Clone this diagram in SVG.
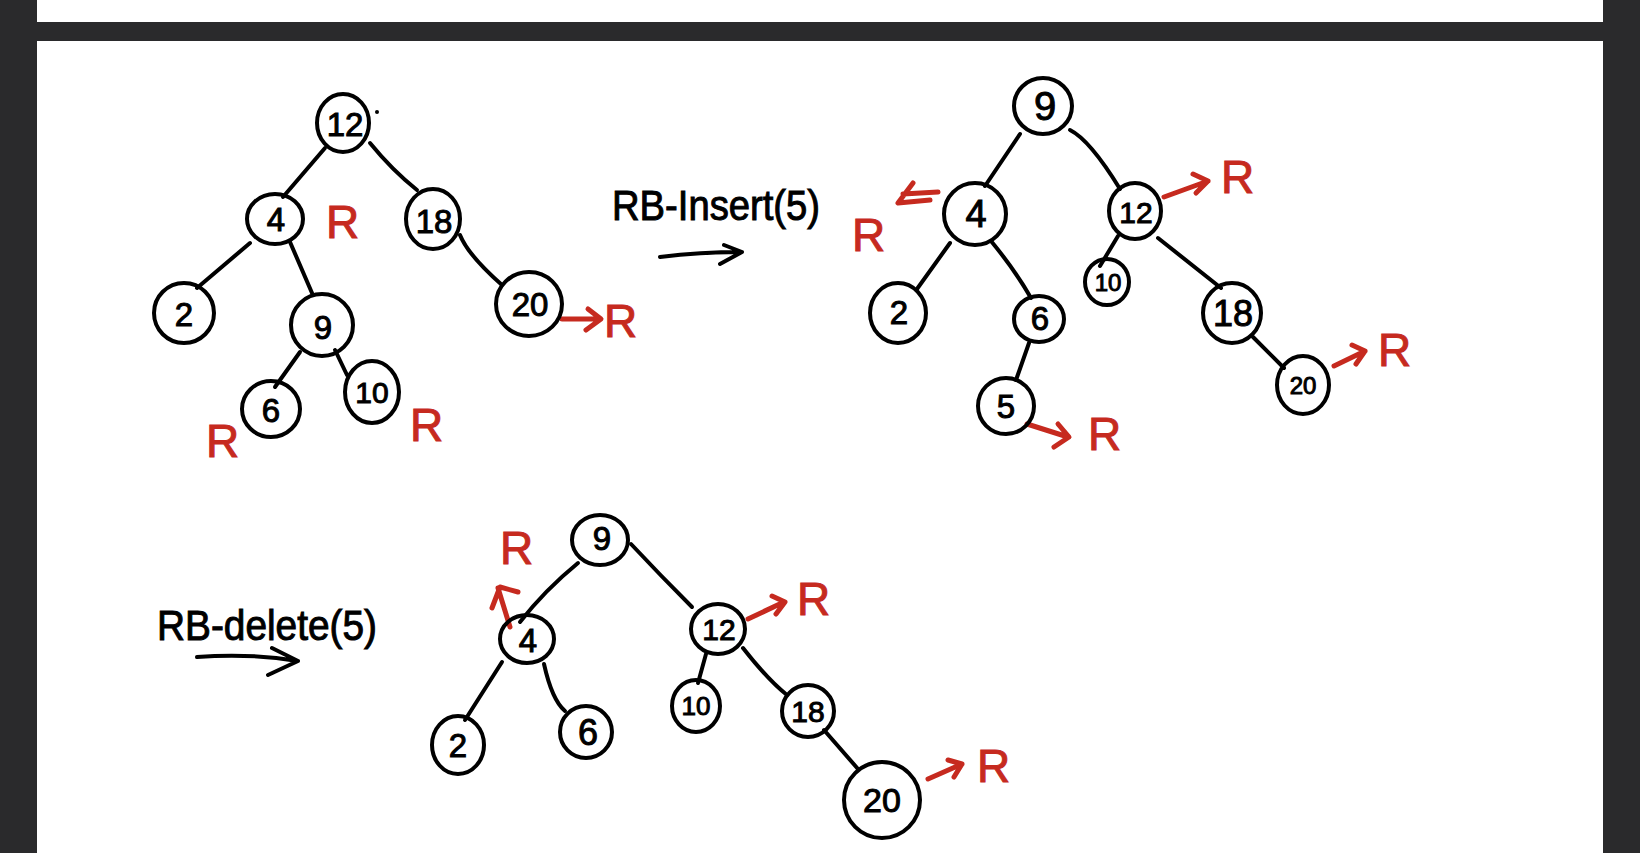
<svg xmlns="http://www.w3.org/2000/svg" width="1640" height="853" viewBox="0 0 1640 853">
<defs>
<style>
.bg{fill:#2a2a2c}
.page{fill:#ffffff}
.n{fill:none;stroke:#000;stroke-width:4}
.e{fill:none;stroke:#000;stroke-width:4;stroke-linecap:round;stroke-linejoin:round}
.ra{fill:none;stroke:#c62a1f;stroke-width:5;stroke-linecap:round;stroke-linejoin:round}
.t{font-family:"Liberation Sans",Arial,sans-serif;font-size:33px;fill:#000;stroke:#000;stroke-width:1;text-anchor:middle;dominant-baseline:central}
.h{font-family:"Liberation Sans",Arial,sans-serif;font-size:42px;fill:#000;stroke:#000;stroke-width:1}
.r{font-family:"Liberation Sans",Arial,sans-serif;font-size:46px;fill:#c62a1f;stroke:#c62a1f;stroke-width:1}
</style>
</defs>
<rect class="bg" x="0" y="0" width="1640" height="853"/>
<rect class="page" x="37" y="0" width="1566" height="22"/>
<rect class="page" x="37" y="41" width="1566" height="812"/>

<g id="connectors">
  <!-- tree 1 -->
  <path class="e" d="M325 148 L283 197"/>
  <path class="e" d="M370 143 Q392 170 417 190"/>
  <path class="e" d="M250 243 L197 288"/>
  <path class="e" d="M290 242 L312 293"/>
  <path class="e" d="M460 235 Q468 255 502 285"/>
  <path class="e" d="M300 352 L275 387"/>
  <path class="e" d="M335 350 L347 375"/>
  <!-- tree 2 -->
  <path class="e" d="M1020 134 L985 186"/>
  <path class="e" d="M1070 130 Q1090 140 1120 189"/>
  <path class="e" d="M950 243 L917 289"/>
  <path class="e" d="M991 241 Q1015 270 1031 298"/>
  <path class="e" d="M1029 343 L1016 380"/>
  <path class="e" d="M1118 236 L1100 266"/>
  <path class="e" d="M1158 238 L1221 288"/>
  <path class="e" d="M1253 337 L1284 368"/>
  <!-- tree 3 -->
  <path class="e" d="M578 563 Q545 590 520 622"/>
  <path class="e" d="M631 544 Q660 575 692 607"/>
  <path class="e" d="M502 662 L465 720"/>
  <path class="e" d="M544 664 Q552 700 565 711"/>
  <path class="e" d="M706 654 L698 683"/>
  <path class="e" d="M743 648 Q768 680 787 695"/>
  <path class="e" d="M824 730 L858 769"/>
  <!-- operation arrows -->
  <path class="e" d="M660 257 Q700 252 742 252 M724 245 L742 252 L720 264"/>
  <path class="e" d="M197 657 Q250 653 298 661 M272 648 L298 661 L268 675"/>
  <!-- red annotation arrows -->
  <path class="ra" d="M562 319 L600 319 M588 309 L601 319 L586 330"/>
  <path class="ra" d="M913 183 L898 203 L930 200 M903 194 L938 192"/>
  <path class="ra" d="M1164 197 L1208 181 M1193 174 L1208 181 L1196 193"/>
  <path class="ra" d="M1334 366 L1365 351 M1352 345 L1365 351 L1356 364"/>
  <path class="ra" d="M1027 424 L1068 437 M1058 424 L1069 437 L1054 447"/>
  <path class="ra" d="M510 627 L498 588 M492 608 L500 587 L518 592"/>
  <path class="ra" d="M748 619 L784 602 M772 596 L785 602 L776 614"/>
  <path class="ra" d="M928 779 L962 764 M948 760 L962 764 L954 777"/>
</g>

<g id="tree1">
  <g id="t1-n12"><ellipse class="n" cx="343" cy="123" rx="26" ry="29"/><text class="t" x="345" y="124">12</text></g>
  <circle cx="377" cy="112" r="2" fill="#000"/>
  <g id="t1-n4"><ellipse class="n" cx="275" cy="219" rx="28" ry="25"/><text class="t" x="276" y="219">4</text></g>
  <g id="t1-n18"><ellipse class="n" cx="433" cy="219" rx="27" ry="30"/><text class="t" x="434" y="221">18</text></g>
  <g id="t1-n2"><ellipse class="n" cx="184" cy="313" rx="30" ry="30"/><text class="t" x="184" y="314">2</text></g>
  <g id="t1-n9"><ellipse class="n" cx="322" cy="325" rx="31" ry="31"/><text class="t" x="323" y="327">9</text></g>
  <g id="t1-n20"><ellipse class="n" cx="529" cy="304" rx="33" ry="32"/><text class="t" x="530" y="304">20</text></g>
  <g id="t1-n6"><ellipse class="n" cx="271" cy="409" rx="29" ry="28"/><text class="t" x="271" y="410">6</text></g>
  <g id="t1-n10"><ellipse class="n" cx="372" cy="392" rx="27" ry="31"/><text class="t" x="372" y="392" style="font-size:30px">10</text></g>
</g>

<g id="tree2">
  <g id="t2-n9"><ellipse class="n" cx="1043" cy="106" rx="29" ry="28"/><text class="t" x="1045" y="106" style="font-size:40px">9</text></g>
  <g id="t2-n4"><ellipse class="n" cx="975" cy="214" rx="31" ry="31"/><text class="t" x="976" y="214" style="font-size:38px">4</text></g>
  <g id="t2-n12"><ellipse class="n" cx="1135" cy="211" rx="26" ry="28"/><text class="t" x="1136" y="212" style="font-size:30px">12</text></g>
  <g id="t2-n2"><ellipse class="n" cx="898" cy="313" rx="28" ry="30"/><text class="t" x="899" y="312">2</text></g>
  <g id="t2-n6"><ellipse class="n" cx="1039" cy="319" rx="25" ry="23"/><text class="t" x="1040" y="318">6</text></g>
  <g id="t2-n10"><ellipse class="n" cx="1107" cy="282" rx="22" ry="23"/><text class="t" x="1108" y="282" style="font-size:24px">10</text></g>
  <g id="t2-n18"><ellipse class="n" cx="1232" cy="313" rx="29" ry="30"/><text class="t" x="1233" y="313" style="font-size:36px">18</text></g>
  <g id="t2-n5"><ellipse class="n" cx="1006" cy="406" rx="28" ry="28"/><text class="t" x="1006" y="406">5</text></g>
  <g id="t2-n20"><ellipse class="n" cx="1303" cy="385" rx="26" ry="29"/><text class="t" x="1303" y="385" style="font-size:24px">20</text></g>
</g>

<g id="tree3">
  <g id="t3-n9"><ellipse class="n" cx="600" cy="540" rx="28" ry="25"/><text class="t" x="602" y="538">9</text></g>
  <g id="t3-n4"><ellipse class="n" cx="527" cy="639" rx="27" ry="24"/><text class="t" x="528" y="640">4</text></g>
  <g id="t3-n12"><ellipse class="n" cx="718" cy="629" rx="27" ry="25"/><text class="t" x="719" y="629" style="font-size:30px">12</text></g>
  <g id="t3-n2"><ellipse class="n" cx="458" cy="745" rx="26" ry="29"/><text class="t" x="458" y="745">2</text></g>
  <g id="t3-n6"><ellipse class="n" cx="586" cy="732" rx="26" ry="26"/><text class="t" x="588" y="732" style="font-size:36px">6</text></g>
  <g id="t3-n10"><ellipse class="n" cx="696" cy="706" rx="24" ry="26"/><text class="t" x="696" y="706" style="font-size:26px">10</text></g>
  <g id="t3-n18"><ellipse class="n" cx="808" cy="711" rx="26" ry="26"/><text class="t" x="808" y="711" style="font-size:30px">18</text></g>
  <g id="t3-n20"><ellipse class="n" cx="882" cy="800" rx="38" ry="38"/><text class="t" x="882" y="800" style="font-size:34px">20</text></g>
</g>

<g id="labels">
  <text class="h" x="612" y="220" textLength="208" lengthAdjust="spacingAndGlyphs">RB-Insert(5)</text>
  <text class="h" x="157" y="640" textLength="220" lengthAdjust="spacingAndGlyphs">RB-delete(5)</text>
</g>

<g id="red-marks">
  <text class="r" x="326" y="238">R</text>
  <text class="r" x="604" y="337">R</text>
  <text class="r" x="206" y="457">R</text>
  <text class="r" x="410" y="441">R</text>
  <text class="r" x="852" y="251">R</text>
  <text class="r" x="1221" y="193">R</text>
  <text class="r" x="1378" y="366">R</text>
  <text class="r" x="1088" y="450">R</text>
  <text class="r" x="500" y="564">R</text>
  <text class="r" x="797" y="615">R</text>
  <text class="r" x="977" y="782">R</text>
</g>
</svg>
